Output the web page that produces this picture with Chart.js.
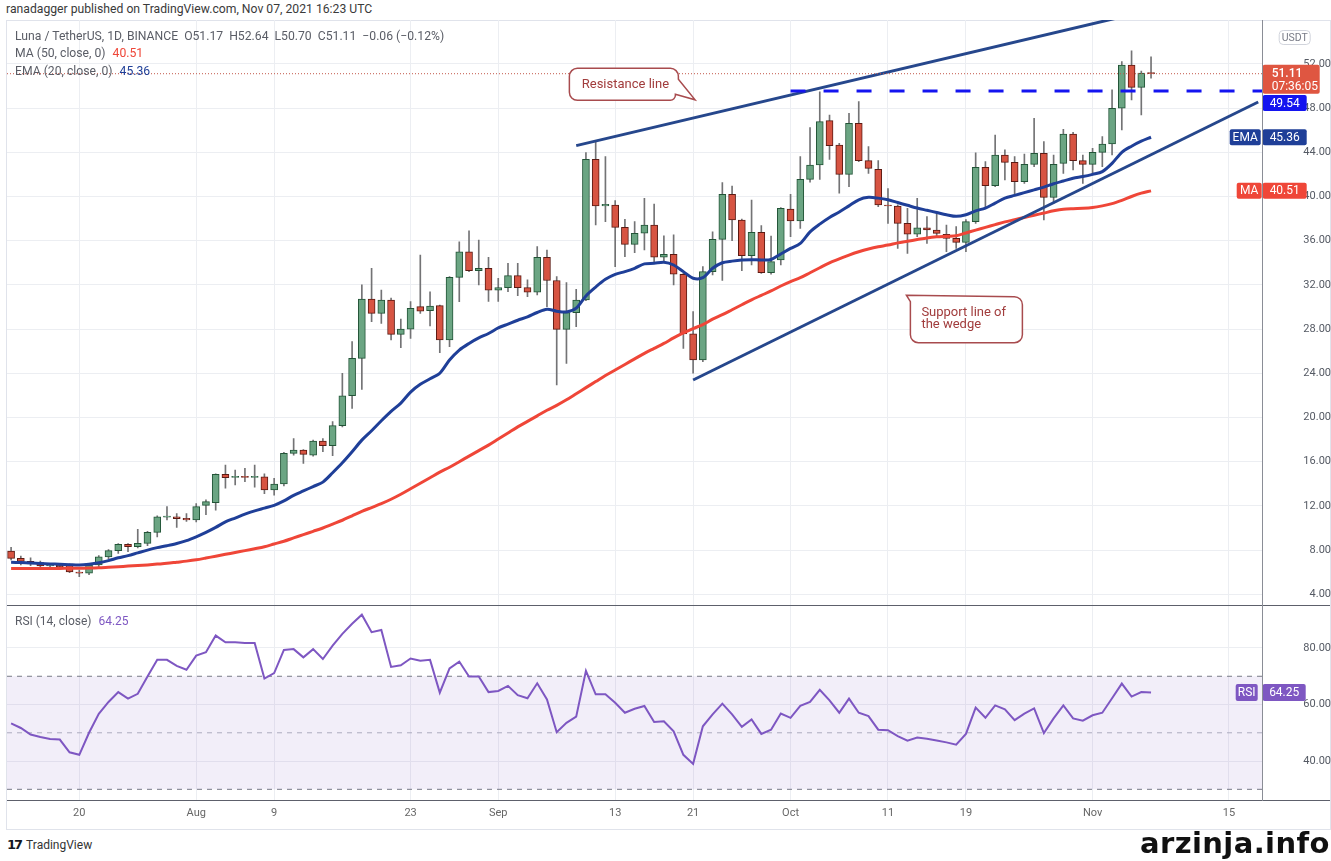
<!DOCTYPE html>
<html>
<head>
<meta charset="utf-8">
<title>Luna / TetherUS 1D</title>
<script src="https://cdn.jsdelivr.net/npm/chart.js@4.4.1/dist/chart.umd.min.js"></script>
<style>
  body { margin: 0; width: 1331px; height: 861px; background: #fff; position: relative; overflow: hidden;
         font-family: Roboto, "Liberation Sans", sans-serif; }
  .abs { position: absolute; }
  #byline { left: 6px; top: 2px; font-size: 12.2px; color: #3a3a3a; white-space: nowrap; }
  #frame { left: 6px; top: 20px; width: 1323px; height: 808px; border: 1px solid #e0e3eb; }
  #priceChart { left: 0; top: 20px; }
  #rsiChart { left: 0; top: 606px; }
  .hline { left: 7px; width: 1323px; height: 1px; background: #5d606b; }
  #axisLine { left: 1262px; top: 20px; width: 1px; height: 781px; background: #8a8d96; }
  #legend { left: 15px; top: 28px; font-size: 12.2px; line-height: 17.3px; color: #5a5d66; white-space: nowrap; }
  #legend span { margin-left: 4px; }
  #rsiLegend { left: 15px; top: 614px; font-size: 12px; color: #5a5d66; white-space: nowrap; }
  #logo { left: 7px; top: 837px; font-size: 12px; color: #333; white-space: nowrap; }
  #logo b { font-family: "DejaVu Sans", sans-serif; font-weight: 900; font-size: 13px; letter-spacing: -2px; margin-right: 5px; color: #131722; }
  #mark { left: 1140px; top: 826px; font-family: "DejaVu Sans", sans-serif; font-weight: bold; font-size: 29px; letter-spacing: 0.4px; color: #111; white-space: nowrap; }
</style>
</head>
<body>
<div id="byline" class="abs">ranadagger published on TradingView.com, Nov 07, 2021 16:23 UTC</div>
<div id="frame" class="abs"></div>
<canvas id="priceChart" class="abs" width="1331" height="586"></canvas>
<canvas id="rsiChart" class="abs" width="1331" height="224"></canvas>
<div class="abs hline" style="top:605px"></div>
<div class="abs hline" style="top:800px"></div>
<div id="axisLine" class="abs"></div>
<div id="legend" class="abs"></div>
<div id="rsiLegend" class="abs"></div>
<div id="logo" class="abs"><b>17</b>TradingView</div>
<div id="mark" class="abs">arzinja.info</div>

<script>
// daily candles, Jul 13 (day 0) .. Nov 7 2021 (day 117)
const open = [7.90,7.25,6.98,6.86,6.56,6.62,6.65,6.00,5.92,6.65, 7.38,7.95,8.52,8.31,8.61,9.60,10.98,11.02,10.87,10.72,
  12.05,12.30,14.85,14.58,14.66,14.58,14.64,13.44,13.98,16.75, 17.06,16.60,17.87,17.45,19.26,21.97,25.35,30.72,29.42,30.63,
  27.52,28.00,30.03,29.66,30.12,27.01,32.68,35.00,33.28,33.50, 31.53,31.75,32.84,31.75,31.33,34.50,32.40,27.98,29.49,30.63,
  43.37,39.14,39.23,37.21,35.67,36.67,37.42,34.50,34.77,32.96, 27.56,25.20,33.20,36.12,40.19,37.87,34.64,36.75,33.10,34.25,
  38.87,37.78,41.55,42.85,46.86,44.66,42.00,46.62,43.24,42.46, 39.23,39.14,37.57,36.60,37.17,36.97,36.57,36.21,35.85,37.72,
  42.64,40.98,43.75,43.09,41.34,42.91,43.90,39.92,43.00,45.65, 43.24,42.91,43.99,44.75,47.98,51.90,49.88,51.17];
const high = [8.25,7.46,7.30,7.00,6.75,6.80,6.75,6.20,6.75,7.50, 8.05,8.60,8.60,9.88,9.70,11.10,11.93,11.30,11.30,12.20,
  12.55,14.90,15.70,15.25,15.40,15.70,14.90,14.49,16.85,18.10, 17.10,17.95,18.10,19.62,23.99,26.86,32.00,33.50,31.54,30.80,
  28.91,30.48,34.70,31.38,30.18,32.75,35.90,36.90,36.06,34.50, 32.60,33.95,33.95,32.45,35.46,35.16,32.75,32.20,31.60,43.97,
  44.96,43.60,39.63,37.94,37.72,39.84,39.32,36.43,36.52,33.05, 29.58,33.65,36.80,41.25,40.95,37.95,39.68,37.36,36.42,39.00,
  40.19,43.60,46.23,49.48,47.37,44.80,47.52,48.58,44.51,43.24, 40.71,39.25,38.93,39.83,38.17,38.47,37.42,37.27,37.90,43.96,
  43.15,45.56,44.21,43.60,43.84,47.07,44.96,43.75,46.08,45.80, 43.75,44.36,45.41,49.64,52.20,53.19,51.35,52.64];
const low = [7.10,6.65,6.60,6.45,6.45,6.40,5.95,5.60,5.78,6.50, 7.20,7.70,7.85,8.20,8.40,9.20,10.72,10.05,10.60,10.55,
  11.20,11.62,13.60,13.90,14.20,13.70,13.10,12.98,13.80,16.60, 15.85,16.50,16.90,16.54,19.15,20.83,22.55,28.67,28.52,27.01,
  26.32,27.16,29.42,28.28,25.86,26.41,30.48,33.19,31.99,30.50, 30.50,31.39,31.03,30.94,31.09,30.03,22.94,24.90,28.22,30.57,
  37.42,37.72,33.65,34.56,34.92,35.16,34.10,34.10,31.99,26.26, 24.00,25.05,32.90,32.40,36.00,33.29,33.80,33.04,32.98,33.80,
  36.36,37.10,41.30,41.55,43.36,40.30,40.89,43.15,42.09,39.08, 37.57,35.31,34.85,36.36,35.76,36.36,35.00,35.31,35.00,37.57,
  39.08,40.89,41.49,40.13,41.19,42.70,37.87,39.38,42.09,42.40, 41.19,41.94,42.70,43.75,46.02,48.73,47.37,50.70];
const close = [7.25,6.98,6.74,6.56,6.62,6.50,6.02,5.92,6.65,7.40, 7.95,8.52,8.31,8.61,9.60,11.02,11.05,10.84,10.72,11.93,
  12.38,14.85,14.55,14.62,14.58,14.62,13.44,13.98,16.75,17.06, 16.66,17.87,17.45,19.26,21.97,25.35,30.72,29.42,30.63,27.52,
  28.00,29.88,29.63,30.09,27.01,32.68,35.00,33.28,33.50,31.53, 31.75,32.84,31.75,31.33,34.50,32.40,27.98,29.49,30.63,43.37,
  39.14,39.28,37.21,35.67,36.67,37.42,34.50,34.77,32.96,27.56, 25.20,33.20,36.13,40.19,37.87,34.64,36.75,33.10,34.10,38.93,
  37.78,41.55,42.85,46.77,44.60,42.00,46.62,43.24,42.55,39.23, 39.14,37.57,36.60,37.17,36.97,36.66,36.21,35.85,37.72,42.64,
  40.98,43.75,43.09,41.34,42.91,43.90,39.92,42.91,45.65,43.24, 42.91,43.99,44.75,47.98,51.90,49.88,51.17,51.11];

// EMA(20) and MA(50)
const ema20 = [6.90,6.87,6.83,6.79,6.75,6.72,6.68,6.65,6.72,6.85, 7.05,7.30,7.50,7.75,8.00,8.22,8.40,8.60,8.85,9.20,
  9.60,10.05,10.55,10.90,11.25,11.55,11.80,12.05,12.45,12.95, 13.35,13.75,14.15,15.00,15.90,16.90,17.95,18.80,19.70,20.55,
  21.30,22.30,23.00,23.50,24.00,25.20,26.10,26.70,27.20,27.60, 28.10,28.45,28.80,29.10,29.50,29.80,29.62,29.55,29.90,31.00,
  31.80,32.50,32.95,33.20,33.50,33.90,33.95,34.05,33.80,33.20, 32.60,32.65,33.50,34.00,34.15,34.25,34.28,34.25,34.30,34.80,
  35.30,35.75,36.80,37.50,38.10,38.60,39.15,39.70,39.92,39.85, 39.70,39.45,39.20,38.95,38.75,38.55,38.35,38.20,38.35,38.70,
  38.95,39.40,39.85,40.10,40.35,40.60,40.85,41.15,41.40,41.65, 41.80,42.00,42.25,43.00,44.00,44.55,45.00,45.36];
const ma50 = [6.33,6.33,6.33,6.34,6.34,6.34,6.35,6.35,6.37,6.40, 6.45,6.50,6.55,6.60,6.66,6.73,6.80,6.90,7.00,7.12,
  7.28,7.45,7.62,7.78,7.95,8.12,8.30,8.55,8.80,9.10, 9.40,9.70,10.00,10.35,10.70,11.10,11.50,11.85,12.20,12.60,
  13.05,13.55,14.05,14.55,15.05,15.50,16.00,16.50,17.00,17.50, 18.05,18.60,19.15,19.65,20.15,20.65,21.10,21.60,22.15,22.70,
  23.25,23.80,24.30,24.80,25.30,25.80,26.25,26.70,27.20,27.65, 28.05,28.40,28.90,29.30,29.75,30.20,30.65,31.05,31.45,31.90,
  32.30,32.65,33.10,33.55,34.00,34.35,34.70,35.00,35.25,35.45, 35.60,35.80,35.95,36.10,36.25,36.35,36.40,36.45,36.70,36.95,
  37.20,37.45,37.70,37.90,38.10,38.30,38.50,38.70,38.85,38.90, 38.93,39.00,39.15,39.35,39.65,40.00,40.30,40.51];
// RSI(14)
const rsi = [53.3,51.7,49.4,48.5,47.8,47.6,43.1,42.2,50.0,56.7, 60.9,64.4,62.1,63.8,69.9,75.8,75.8,73.7,72.3,77.3,
  78.5,84.4,82.0,82.0,81.8,81.8,69.2,71.1,79.3,79.6, 76.7,79.6,76.1,80.8,85.0,88.6,91.8,85.6,86.4,73.3,
  73.9,76.3,75.5,75.8,64.2,72.8,75.2,69.9,69.9,64.4, 64.8,66.6,63.3,62.2,67.5,61.8,50.2,53.5,55.7,71.9,
  63.6,63.6,60.6,57.1,58.5,59.5,53.8,54.1,50.5,42.2, 39.0,52.3,56.5,60.3,56.5,52.1,54.7,49.6,51.1,56.8,
  55.3,59.5,60.9,65.2,61.5,57.1,62.1,57.1,55.9,51.1, 50.9,48.8,47.2,48.3,47.9,47.3,46.6,45.8,49.6,58.9,
  55.3,59.7,58.3,54.5,56.8,58.6,49.9,55.1,59.7,55.1, 54.3,56.2,57.1,62.2,67.4,62.8,64.4,64.25];

// x axis
const tickDays = [7, 19, 27, 41, 50, 62, 70, 80, 90, 98, 111, 125];
const tickLabels = ['20', 'Aug', '9', '23', 'Sep', '13', '21', 'Oct', '11', '19', 'Nov', '15'];
const priceTicks = [4, 8, 12, 16, 20, 24, 28, 32, 36, 40, 44, 48, 52];
const rsiTicks = [40, 60, 80];
const rsiLevels = [70, 50, 30];

// drawings
const resistance = [{ x: 58.0, y: 44.6 }, { x: 113.5, y: 56.15 }];
const support = [{ x: 70.0, y: 23.39 }, { x: 128.0, y: 48.55 }];
const levelPrice = 49.54, levelFrom = 80;
const resNote = { x: 57.3, y: 51.6, tipX: 70.2, tipY: 48.75 };
const supNote = { x: 92.3, y: 30.93 };

const X_MIN = -0.42, X_MAX = 128.46;
const UP = '#6ba583', DOWN = '#d75442', UP_EDGE = '#225437', DOWN_EDGE = '#5b1a13';
const EMA_COLOR = '#1f3f98', MA_COLOR = '#ef4638', RSI_COLOR = '#7e57c2';
const GRID = '#eceef2';

Chart.defaults.font.family = 'Roboto, "Liberation Sans", sans-serif';
Chart.defaults.font.size = 11;
Chart.defaults.color = '#555a64';

const days = close.map((c, i) => i);
const last = close.length - 1;
const isUp = i => close[i] >= open[i];

// legends
const chg = close[last] - close[last - 1];
document.getElementById('legend').innerHTML =
  '<div>Luna / TetherUS, 1D, BINANCE&nbsp; O' + open[last].toFixed(2) + '&nbsp; H' + high[last].toFixed(2) +
  '&nbsp; L' + low[last].toFixed(2) + '&nbsp; C' + close[last].toFixed(2) + '&nbsp; ' +
  (chg < 0 ? '\u2212' : '+') + Math.abs(chg).toFixed(2) + ' (' + (chg < 0 ? '\u2212' : '+') +
  Math.abs(chg / close[last - 1] * 100).toFixed(2) + '%)</div>' +
  '<div>MA (50, close, 0) <span style="color:' + MA_COLOR + '">' + ma50[last].toFixed(2) + '</span></div>' +
  '<div>EMA (20, close, 0) <span style="color:' + EMA_COLOR + '">' + ema20[last].toFixed(2) + '</span></div>';
document.getElementById('rsiLegend').innerHTML =
  'RSI (14, close) <span style="color:' + RSI_COLOR + ';margin-left:4px">' + rsi[last].toFixed(2) + '</span>';

// small drawing helpers for axis tags and notes
function tag(ctx, left, yc, w, h, bg, text) {
  ctx.fillStyle = bg;
  ctx.beginPath();
  ctx.roundRect(left, yc - h / 2, w, h, 2);
  ctx.fill();
  ctx.fillStyle = '#fff';
  ctx.font = '12px Roboto, sans-serif';
  ctx.textAlign = 'center';
  ctx.textBaseline = 'middle';
  ctx.fillText(text, left + w / 2, yc + 0.5);
}

// fixed axis width, no label overhang padding
const fixWidth = s => { s.width = 68.3; s.paddingTop = 0; s.paddingBottom = 0; };

const priceTags = {
  id: 'priceTags',
  afterDraw(chart) {
    const { ctx, chartArea: a, scales: { x, y } } = chart;
    ctx.save();

    // resistance note
    let L = x.getPixelForValue(resNote.x), T = y.getPixelForValue(resNote.y);
    let W = 109, H = 32, r = 8;
    const tx = x.getPixelForValue(resNote.tipX), ty = y.getPixelForValue(resNote.tipY);
    ctx.beginPath();
    ctx.moveTo(L + r, T);
    ctx.lineTo(L + W - r, T);
    ctx.arcTo(L + W, T, L + W, T + r, r);
    ctx.lineTo(L + W, T + 11);
    ctx.lineTo(tx, ty);
    ctx.lineTo(L + W - 3, T + H - 6);
    ctx.arcTo(L + W - 3, T + H, L + W - 3 - r, T + H, 5);
    ctx.lineTo(L + r, T + H);
    ctx.arcTo(L, T + H, L, T + H - r, r);
    ctx.lineTo(L, T + r);
    ctx.arcTo(L, T, L + r, T, r);
    ctx.closePath();
    ctx.fillStyle = '#fff';
    ctx.fill();
    ctx.strokeStyle = '#a84b4e';
    ctx.lineWidth = 1.5;
    ctx.stroke();
    ctx.fillStyle = '#a13c3c';
    ctx.font = '13px Roboto, sans-serif';
    ctx.textAlign = 'center';
    ctx.textBaseline = 'middle';
    ctx.fillText('Resistance line', L + 56, T + 16);

    // support note
    L = x.getPixelForValue(supNote.x); T = y.getPixelForValue(supNote.y);
    W = 112; H = 46;
    ctx.beginPath();
    ctx.moveTo(L - 4, T - 1.5);
    ctx.lineTo(L + W - r, T);
    ctx.arcTo(L + W, T, L + W, T + r, r);
    ctx.lineTo(L + W, T + H - r);
    ctx.arcTo(L + W, T + H, L + W - r, T + H, r);
    ctx.lineTo(L + r, T + H);
    ctx.arcTo(L, T + H, L, T + H - r, r);
    ctx.lineTo(L, T + 5);
    ctx.closePath();
    ctx.fillStyle = '#fff';
    ctx.fill();
    ctx.strokeStyle = '#a84b4e';
    ctx.stroke();
    ctx.fillStyle = '#a13c3c';
    ctx.textAlign = 'left';
    ctx.fillText('Support line of', L + 11, T + 16);
    ctx.fillText('the wedge', L + 11, T + 28);

    // axis tags
    const R = a.right;
    tag(ctx, R - 26, y.getPixelForValue(ma50[last]), 25, 16, MA_COLOR, 'MA');
    tag(ctx, R, y.getPixelForValue(ma50[last]), 44, 16, MA_COLOR, ma50[last].toFixed(2));
    tag(ctx, R - 33, y.getPixelForValue(ema20[last]), 31, 16, EMA_COLOR, 'EMA');
    tag(ctx, R, y.getPixelForValue(ema20[last]), 44, 16, EMA_COLOR, ema20[last].toFixed(2));
    tag(ctx, R, y.getPixelForValue(levelPrice) + 12, 44, 16, '#1414f0', levelPrice.toFixed(2));

    const yc = y.getPixelForValue(close[last]);
    ctx.fillStyle = isUp(last) ? UP : '#df5641';
    ctx.beginPath();
    ctx.roundRect(R, yc - 9, 57, 29, 2);
    ctx.fill();
    ctx.fillStyle = '#fff';
    ctx.textAlign = 'left';
    ctx.font = '500 12px Roboto, sans-serif';
    ctx.fillText(close[last].toFixed(2), R + 9, yc);
    ctx.font = '12px Roboto, sans-serif';
    ctx.fillText('07:36:05', R + 9, yc + 13);

    // currency box
    ctx.strokeStyle = '#d1d4dc';
    ctx.lineWidth = 1;
    ctx.beginPath();
    ctx.roundRect(R + 16.5, 10.5, 31, 14, 4);
    ctx.stroke();
    ctx.fillStyle = '#787b86';
    ctx.font = '10.5px Roboto, sans-serif';
    ctx.textAlign = 'center';
    ctx.fillText('USDT', R + 32, 18);
    ctx.restore();
  }
};

const lineDs = (data, color, width, extra) => Object.assign({
  type: 'line', data, borderColor: color, borderWidth: width, pointRadius: 0, fill: false, order: 1
}, extra || {});

new Chart(document.getElementById('priceChart'), {
  type: 'bar',
  data: {
    datasets: [
      {
        data: days.map(i => ({ x: i, y: [low[i], high[i]] })),
        backgroundColor: '#737375', barThickness: 1, grouped: false, order: 4
      },
      {
        data: days.map(i => ({ x: i, y: [open[i], close[i]] })),
        backgroundColor: c => isUp(c.dataIndex) ? UP : DOWN,
        borderColor: c => isUp(c.dataIndex) ? UP_EDGE : DOWN_EDGE,
        borderWidth: 1, borderSkipped: false, barThickness: 7, minBarLength: 1, grouped: false, order: 3
      },
      lineDs(days.map(i => ({ x: i, y: ma50[i] })), MA_COLOR, 3, { tension: 0.3, order: 2 }),
      lineDs(days.map(i => ({ x: i, y: ema20[i] })), EMA_COLOR, 3, { tension: 0.3, order: 2 }),
      lineDs([{ x: X_MIN, y: close[last] }, { x: X_MAX, y: close[last] }], '#c2574a', 1, { borderDash: [1, 2] }),
      lineDs([{ x: levelFrom, y: levelPrice }, { x: X_MAX, y: levelPrice }], '#1414f0', 3, { borderDash: [15, 18] }),
      lineDs(resistance, '#26478c', 3),
      lineDs(support, '#26478c', 3)
    ]
  },
  options: {
    responsive: false,
    animation: false,
    layout: { autoPadding: false, padding: { left: 7, right: 0, top: 0, bottom: 0 } },
    plugins: { legend: { display: false }, tooltip: { enabled: false } },
    scales: {
      x: {
        type: 'linear', min: X_MIN, max: X_MAX, offset: false,
        grid: { color: GRID, drawTicks: false, offset: false },
        border: { display: false },
        ticks: { display: false },
        afterBuildTicks: s => { s.ticks = tickDays.map(v => ({ value: v })); },
        afterFit: s => { s.height = 0; s.paddingLeft = 0; s.paddingRight = 0; }
      },
      y: {
        position: 'right', min: 2.94, max: 55.97,
        grid: { color: GRID, drawTicks: false },
        border: { display: false },
        ticks: { crossAlign: 'far', padding: 6, callback: v => v.toFixed(2) },
        afterBuildTicks: s => { s.ticks = priceTicks.map(v => ({ value: v })); },
        afterFit: fixWidth
      }
    }
  },
  plugins: [priceTags]
});

const rsiTag = {
  id: 'rsiTag',
  afterDraw(chart) {
    const { ctx, chartArea: a, scales: { y } } = chart;
    ctx.save();
    const yc = y.getPixelForValue(rsi[last]);
    tag(ctx, a.right - 27, yc, 22, 17, RSI_COLOR, 'RSI');
    tag(ctx, a.right, yc, 43, 17, RSI_COLOR, rsi[last].toFixed(2));
    ctx.restore();
  }
};

new Chart(document.getElementById('rsiChart'), {
  type: 'line',
  data: {
    datasets: [
      lineDs(days.map(i => ({ x: i, y: rsi[i] })), RSI_COLOR, 2),
      ...rsiLevels.map((v, k) => lineDs([{ x: X_MIN, y: v }, { x: X_MAX, y: v }],
        k === 1 ? '#b2b5be' : '#787b86', 1, {
          borderDash: [5, 5], order: 3,
          fill: k === 0 ? { value: rsiLevels[2] } : false,
          backgroundColor: 'rgba(126,87,194,0.1)'
        }))
    ]
  },
  options: {
    responsive: false,
    animation: false,
    layout: { autoPadding: false, padding: { left: 7, right: 0, top: 0, bottom: 0 } },
    plugins: { legend: { display: false }, tooltip: { enabled: false } },
    scales: {
      x: {
        type: 'linear', min: X_MIN, max: X_MAX, offset: false,
        grid: { color: GRID, drawTicks: false },
        border: { display: false },
        ticks: { padding: 6, maxRotation: 0, autoSkip: false, color: '#666', callback: (v, i) => tickLabels[i] },
        afterBuildTicks: s => { s.ticks = tickDays.map(v => ({ value: v })); },
        afterFit: s => { s.height = 29.3; s.paddingLeft = 0; s.paddingRight = 0; }
      },
      y: {
        position: 'right', min: 25.97, max: 94.86,
        grid: { color: GRID, drawTicks: false },
        border: { display: false },
        ticks: { crossAlign: 'far', padding: 6, callback: v => v.toFixed(2) },
        afterBuildTicks: s => { s.ticks = rsiTicks.map(v => ({ value: v })); },
        afterFit: fixWidth
      }
    }
  },
  plugins: [rsiTag]
});
</script>
</body>
</html>
